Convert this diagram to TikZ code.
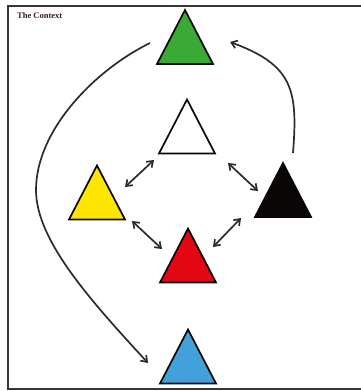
\documentclass[tikz,border=0pt]{standalone}
\usepackage{fontspec}
\setmainfont{Liberation Serif}
\usetikzlibrary{arrows.meta,calc}
\definecolor{tgreen}{HTML}{3AA935}
\definecolor{tyellow}{HTML}{FFE600}
\definecolor{tblack}{HTML}{0A0606}
\definecolor{tred}{HTML}{E30613}
\definecolor{tblue}{HTML}{42A0DA}
\definecolor{frame}{HTML}{3A3535}
\definecolor{titlec}{HTML}{3A1F1F}
\tikzset{
  tri/.style={minimum width=56pt,minimum height=54pt,inner sep=0pt,outer sep=0pt},
  triline/.style={draw=tblack,line width=1.7pt,line join=miter},
  conn/.style={draw=tblack!85,line width=1.7pt,-{Straight Barb[length=5.5pt,width=8pt]}},
  bconn/.style={draw=tblack!85,line width=1.7pt,{Straight Barb[length=5.5pt,width=8pt]}-{Straight Barb[length=5.5pt,width=8pt]}},
}
\newcommand{\drawtri}[2]{\filldraw[triline,fill=#2] (#1.south west) -- (#1.north) -- (#1.south east) -- cycle;}
\begin{document}
\begin{tikzpicture}[x=1pt,y=-1pt]
\useasboundingbox (0,0) rectangle (361,391);
\fill[white] (0,0) rectangle (361,391);
\draw[frame,line width=2.2pt] (361,6) -- (8,6) -- (8,389) -- (361,389);
\node[text=titlec,anchor=west,inner sep=0pt] (title) at (17,15.5) {\fontsize{8.5}{9}\selectfont\bfseries The Context};
\node[tri] (g) at (185,37) {};
\node[tri] (w) at (187,126.5) {};
\node[tri] (y) at (97,192.5) {};
\node[tri] (k) at (283,190) {};
\node[tri] (r) at (188,255.5) {};
\node[tri] (b) at (188,356.5) {};
\drawtri{g}{tgreen}
\drawtri{w}{white}
\drawtri{y}{tyellow}
\drawtri{k}{tblack}
\drawtri{r}{tred}
\drawtri{b}{tblue}
\draw[bconn] ($(y.center)+(28,-5.5)$) -- ($(w.center)+(-33,33.5)$);
\draw[bconn] ($(w.center)+(41,36.5)$) -- ($(k.center)+(-25,1)$);
\draw[bconn] ($(y.center)+(35,28.5)$) -- ($(r.center)+(-26,-6.5)$);
\draw[bconn] ($(r.center)+(25,-8.5)$) -- ($(k.center)+(-42,28)$);
\draw[conn] ($(k.center)+(10,-37)$) .. controls (298,90) and (293,65) .. ($(g.center)+(45,5)$);
\draw[conn] ($(g.center)+(-35,6)$) .. controls (95,70) and (36,130) .. (36,190) .. controls (36,240) and (90,300) .. ($(b.center)+(-40,6.5)$);
\end{tikzpicture}
\end{document}
